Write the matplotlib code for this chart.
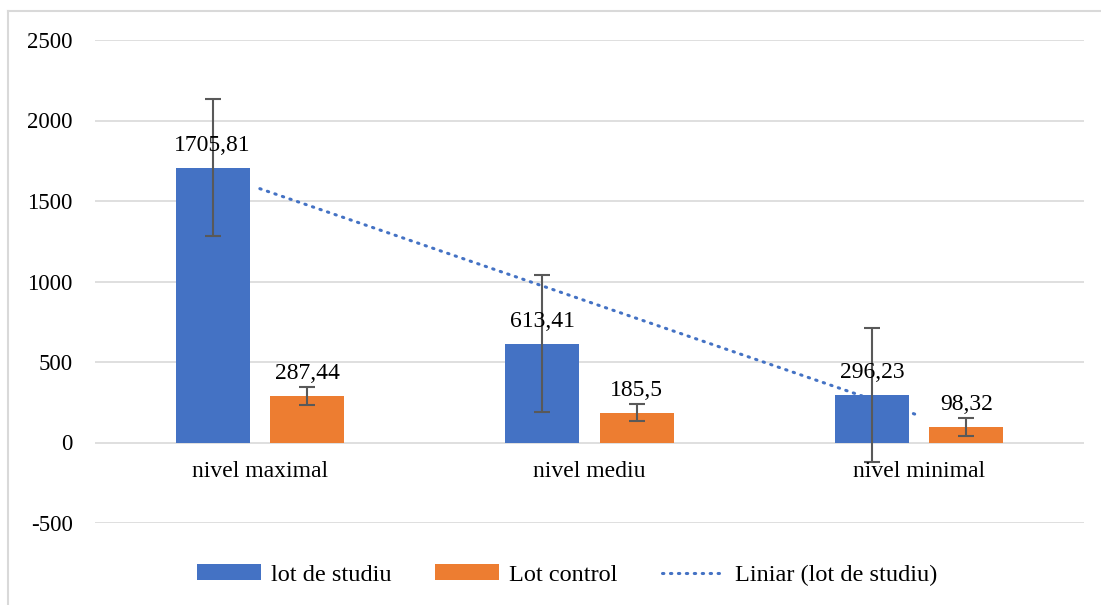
import numpy as np
import matplotlib
matplotlib.use("Agg")
import matplotlib.pyplot as plt
from matplotlib.lines import Line2D

categories = ["nivel maximal", "nivel mediu", "nivel minimal"]
lot_studiu = [1705.81, 613.41, 296.23]
lot_control = [287.44, 185.5, 98.32]
err_studiu = [425, 427, 415]
err_control = [55, 54, 55]
label_studiu = ["1705,81", "613,41", "296,23"]
label_control = ["287,44", "185,5", "98,32"]
yticks = [-500, 0, 500, 1000, 1500, 2000, 2500]

plt.rcParams['font.family'] = ['Liberation Serif', 'DejaVu Serif']

W, H = 1101, 605
fig = plt.figure(figsize=(W / 100, H / 100), dpi=100)
ax = fig.add_axes([95 / W, 1 - 523 / H, (1084 - 95) / W, (523 - 40) / H])

blue = "#4472C4"
orange = "#ED7D31"
x = np.arange(len(categories))
bw = 0.224
off = 0.143

b1 = ax.bar(x - off, lot_studiu, bw, color=blue, zorder=2, label="lot de studiu")
b2 = ax.bar(x + off, lot_control, bw, color=orange, zorder=2, label="Lot control")
ax.errorbar(x - off, lot_studiu, yerr=err_studiu, fmt="none", ecolor="#595959",
            elinewidth=1.5, capsize=6, capthick=1.5, zorder=3)
ax.errorbar(x + off, lot_control, yerr=err_control, fmt="none", ecolor="#595959",
            elinewidth=1.5, capsize=6, capthick=1.5, zorder=3)

# linear trendline of lot de studiu
coef = np.polyfit(x, lot_studiu, 1)
tl, = ax.plot(x, np.polyval(coef, x), linestyle=(0, (0.45, 2.15)), color=blue, lw=2.2,
              dash_capstyle="round", zorder=4, label="Liniar (lot de studiu)")

for xi, v, t in zip(x - off, lot_studiu, label_studiu):
    ax.annotate(t, (xi, v), xytext=(0, 12), textcoords="offset pixels",
                ha="center", va="bottom", fontsize=17, zorder=5)
for xi, v, t in zip(x + off, lot_control, label_control):
    ax.annotate(t, (xi, v), xytext=(0, 12), textcoords="offset pixels",
                ha="center", va="bottom", fontsize=17, zorder=5)

ax.set_xlim(-0.5, 2.5)
ax.set_ylim(-500, 2500)
ax.set_yticks(yticks)
ax.set_yticklabels([str(t) for t in yticks], fontsize=16.5)
ax.yaxis.grid(True, color="#D9D9D9", lw=1.2, zorder=0)
ax.set_axisbelow(True)
ax.tick_params(axis="y", length=0, pad=16)
ax.set_xticks([])
for xi, c in zip(x, categories):
    ax.text(xi, -118, c, ha="center", va="top", fontsize=17)
for s in ax.spines.values():
    s.set_visible(False)

leg = ax.legend(handles=[b1, b2, tl], loc="center",
                bbox_to_anchor=(567.5 / W, (H - 575) / H),
                bbox_transform=fig.transFigure, ncol=3, frameon=False,
                fontsize=17.5, handlelength=2.63, handleheight=0.58,
                columnspacing=1.8, handletextpad=0.41, borderpad=0)

# chart border
fig.add_artist(Line2D([8 / W, 1], [1 - 11 / H, 1 - 11 / H], color="#D9D9D9", lw=1.5,
                      transform=fig.transFigure))
fig.add_artist(Line2D([8 / W, 8 / W], [0, 1 - 11 / H], color="#D9D9D9", lw=1.5,
                      transform=fig.transFigure))

fig.savefig("out.png", dpi=100)
